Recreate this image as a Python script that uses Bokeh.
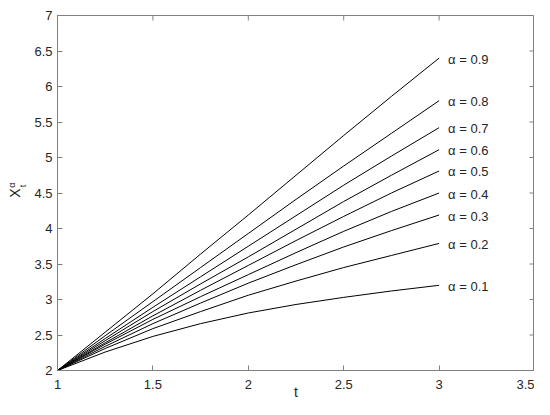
import math
from bokeh.plotting import figure
from bokeh.models import Range1d, FixedTicker, Label, ColumnDataSource
from bokeh.embed import file_html
from bokeh.resources import INLINE
from bokeh.core.properties import value

# ---- data ----
t = [1, 1.25, 1.5, 1.75, 2, 2.25, 2.5, 2.75, 3]
alphas = ["0.9", "0.8", "0.7", "0.6", "0.5", "0.4", "0.3", "0.2", "0.1"]
x_a09 = [2, 2.54, 3.08, 3.64, 4.19, 4.75, 5.31, 5.86, 6.40]
x_a08 = [2, 2.49, 2.97, 3.45, 3.93, 4.41, 4.88, 5.34, 5.80]
x_a07 = [2, 2.45, 2.89, 3.32, 3.75, 4.18, 4.61, 5.02, 5.42]
x_a06 = [2, 2.42, 2.83, 3.22, 3.60, 3.99, 4.38, 4.75, 5.11]
x_a05 = [2, 2.39, 2.77, 3.13, 3.48, 3.83, 4.17, 4.50, 4.81]
x_a04 = [2, 2.37, 2.72, 3.04, 3.35, 3.66, 3.96, 4.24, 4.50]
x_a03 = [2, 2.34, 2.66, 2.95, 3.23, 3.49, 3.74, 3.97, 4.19]
x_a02 = [2, 2.31, 2.59, 2.83, 3.06, 3.26, 3.45, 3.62, 3.79]
x_a01 = [2, 2.26, 2.48, 2.66, 2.81, 2.93, 3.03, 3.12, 3.20]
series = [x_a09, x_a08, x_a07, x_a06, x_a05, x_a04, x_a03, x_a02, x_a01]

x_ticks = [1, 1.5, 2, 2.5, 3, 3.5]
x_tick_labels = ["1", "1.5", "2", "2.5", "3", "3.5"]
y_ticks = [2, 2.5, 3, 3.5, 4, 4.5, 5, 5.5, 6, 6.5, 7]
y_tick_labels = ["2", "2.5", "3", "3.5", "4", "4.5", "5", "5.5", "6", "6.5", "7"]

FONT = "Liberation Sans"
AX = "#808080"
TXT = "#262626"

p = figure(width=534, height=399, output_backend="svg", toolbar_location=None,
           x_range=Range1d(x_ticks[0], x_ticks[-1]), y_range=Range1d(y_ticks[0], y_ticks[-1]),
           min_border_left=57, min_border_right=0, min_border_top=15,
           min_border_bottom=29, background_fill_color="white",
           border_fill_color="white")
p.grid.visible = False
p.outline_line_color = AX
p.outline_line_width = 1

for ax, ticks, labels in ((p.xaxis[0], x_ticks, x_tick_labels),
                          (p.yaxis[0], y_ticks, y_tick_labels)):
    ax.ticker = FixedTicker(ticks=ticks)
    ax.major_label_overrides = {tk: lb for tk, lb in zip(ticks, labels)}
    ax.minor_tick_line_color = None
    ax.major_tick_in = 5
    ax.major_tick_out = 0
    ax.axis_line_color = AX
    ax.major_tick_line_color = AX
    ax.major_label_text_font = FONT
    ax.major_label_text_font_size = "13px"
    ax.major_label_text_color = TXT

p.xaxis.major_label_standoff = 9
p.yaxis.major_label_standoff = 5

# y-axis title: X (rotated by the axis)
p.yaxis.axis_label = "X"
p.yaxis.axis_label_text_font = FONT
p.yaxis.axis_label_text_font_size = "14px"
p.yaxis.axis_label_text_font_style = "normal"
p.yaxis.axis_label_text_color = TXT
p.yaxis.axis_label_standoff = 8

# inward ticks on the top and right edges of the box (half of each dash is clipped away)
p.scatter(x=x_ticks, y=[y_ticks[-1]] * len(x_ticks), marker="dash", angle=math.pi / 2,
          size=10, line_color=AX, line_width=1)
p.scatter(x=[x_ticks[-1]] * len(y_ticks), y=y_ticks, marker="dash",
          size=10, line_color=AX, line_width=1)

# curves
for s in series:
    p.line(t, s, line_color="black", line_width=1)

# curve labels
src = ColumnDataSource(dict(x=[t[-1]] * len(series),
                            y=[s[-1] for s in series],
                            text=["\u03b1 = " + a for a in alphas]))
p.text(x="x", y="y", text="text", source=src, x_offset=9, y_offset=1,
       text_font=value(FONT), text_font_size="13px", text_color=TXT,
       text_baseline="middle", text_align="left")

# texts outside the frame, placed in side panels so they are not clipped
p.add_layout(Label(x=(x_ticks[0] + x_ticks[-1]) / 2, y=y_ticks[0], y_offset=-21,
                   text="t", text_font=FONT, text_font_size="14px", text_color=TXT,
                   text_align="center", text_baseline="middle"), "left")
p.add_layout(Label(x=x_ticks[0], y=4.61, x_offset=-46, text="\u03b1", angle=math.pi / 2,
                   text_font=FONT, text_font_size="9px", text_color=TXT,
                   text_align="center", text_baseline="middle"), "above")
p.add_layout(Label(x=x_ticks[0], y=4.60, x_offset=-35, text="t", angle=math.pi / 2,
                   text_font=FONT, text_font_size="9px", text_color=TXT,
                   text_align="center", text_baseline="middle"), "above")

open("out.html", "w").write(file_html(p, INLINE))
